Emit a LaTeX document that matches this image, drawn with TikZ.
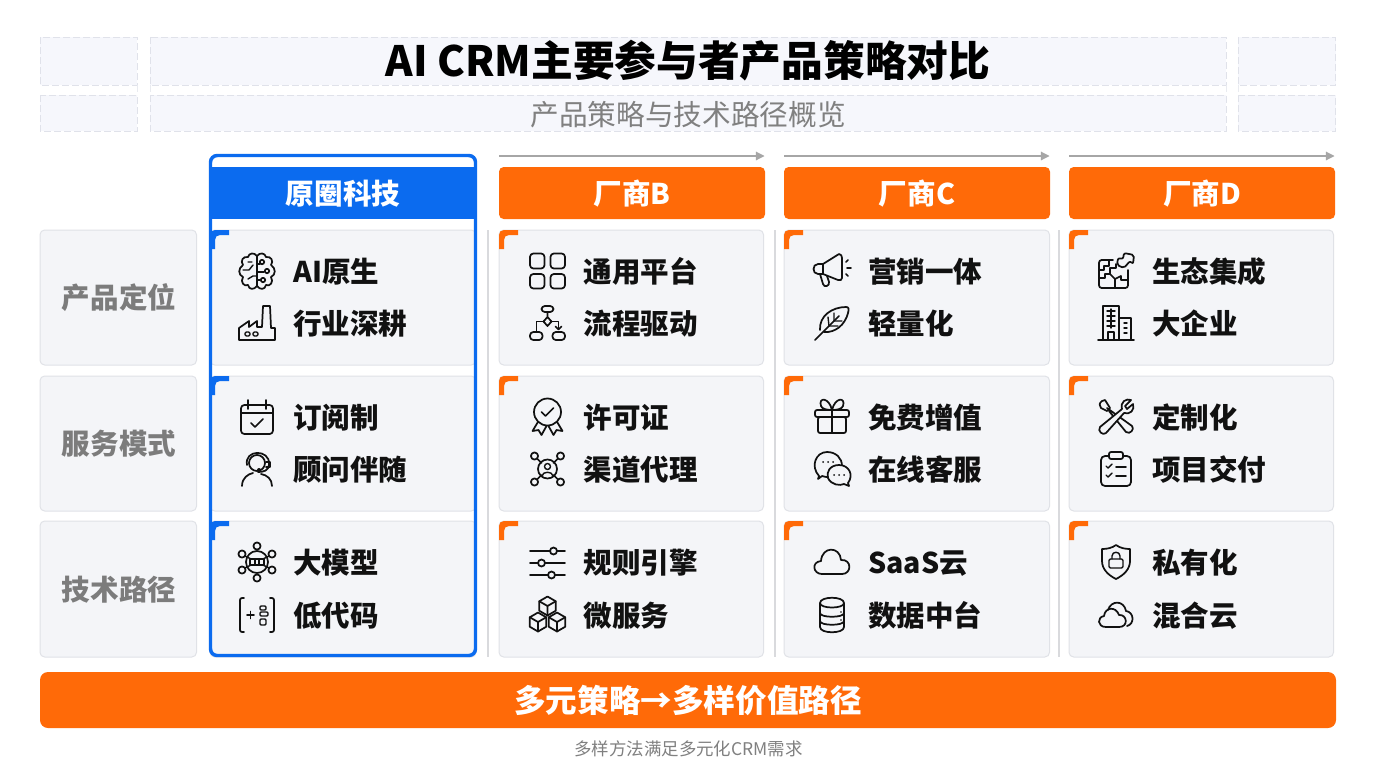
\documentclass[tikz,border=0pt]{standalone}
\usepackage{fontspec}
\setmainfont{Noto Sans CJK SC}
\usetikzlibrary{arrows.meta}
\definecolor{ink}{HTML}{111111}
\definecolor{cellbg}{HTML}{F4F5F8}
\definecolor{cellline}{HTML}{E0E2E7}
\definecolor{brandblue}{HTML}{0B6BEF}
\definecolor{brandorange}{HTML}{FF6A08}
\definecolor{dashbg}{HTML}{F6F7FC}
\definecolor{dashline}{HTML}{E0E2EA}
\definecolor{sepline}{HTML}{D9DADD}
\definecolor{labelgrey}{HTML}{7C7C7C}
\tikzset{
  icon/.style={draw=ink,line width=1.3pt,line cap=round,line join=round},
  iconthin/.style={draw=ink,line width=1.05pt,line cap=round,line join=round},
  cell/.style={fill=cellbg,draw=cellline,line width=0.75pt,rounded corners=3.5pt},
  dashcell/.style={fill=dashbg,draw=dashline,line width=0.7pt,dash pattern=on 5pt off 2.5pt},
  dashlink/.style={draw=dashline!70,line width=0.6pt,dash pattern=on 5pt off 2.5pt},
  headbar/.style={fill=brandorange,rounded corners=3.5pt},
  sep/.style={draw=sepline,line width=0.9pt},
  toparrow/.style={draw=black!35,line width=0.8pt,-{Triangle[length=6.5pt,width=6.5pt,fill=black!35]}},
  itemtext/.style={anchor=base west,inner sep=0pt,font=\fontsize{21.4pt}{24pt}\selectfont\bfseries,text=ink},
  headtext/.style={anchor=base,inner sep=0pt,font=\fontsize{21.4pt}{24pt}\selectfont\bfseries,text=white},
  rowtext/.style={anchor=base,inner sep=0pt,font=\fontsize{21.4pt}{24pt}\selectfont\bfseries,text=labelgrey},
  % ---- icons, local unit = 1px, y pointing down
  icbrain/.pic={
    \foreach \s in {1,-1}{
    \draw[icon,xscale=\s] (0,-15) .. controls (-3,-19) and (-8,-18) .. (-9,-14) .. controls (-14,-15) and (-17,-10) .. (-14,-6) .. controls (-19,-3) and (-19,4) .. (-14,6) .. controls (-17,11) and (-13,16) .. (-9,14) .. controls (-8,19) and (-3,19) .. (0,15);}
    \draw[icon] (0,-15)--(0,15);
    \draw[iconthin] (-14,-1)--(-8,-1)--(-4,-6) (-9,8)--(-4,5)--(0,5) (-9,-9)--(-5,-9);
    \draw[iconthin] (0,-7)--(3,-7) (0,1)--(7,1) (0,9)--(3,9);
    \draw[icon,fill=cellbg] (5,-9) circle[radius=2.2] (10,0) circle[radius=2.2] (6,9) circle[radius=2.2];
  },
  icfactory/.pic={
    \draw[icon] (-18,17)--(-18,5)--(-8,-2)--(-8,4)--(0,-2)--(0,4)--(5,4)--(6,-17)--(13,-17)--(14,5)--(18,5)--(18,17)--cycle;
    \draw[iconthin,rounded corners=1pt] (-12,9) rectangle (-7,13) (-4,9) rectangle (1,13);
  },
  iccalendar/.pic={
    \draw[icon,rounded corners=2.5pt] (-16,-12) rectangle (16,17);
    \draw[icon] (-16,-4)--(16,-4) (-9,-17)--(-9,-8) (9,-17)--(9,-8);
    \draw[icon] (-6,6)--(-2,10)--(6,2);
  },
  icadvisor/.pic={
    \draw[icon] (0,-6) circle[radius=8];
    \draw[icon] (-10,-4) .. controls (-13,-20) and (13,-20) .. (12,-5) .. controls (12,2) and (6,3) .. (1,3);
    \draw[icon] (-15,17) .. controls (-15,9) and (-9,5) .. (-4,4) (4,5) .. controls (10,6) and (15,10) .. (15,17);
    \fill[ink] (2,1) circle[radius=2];
    \draw[icon] (9,-7)--(13,-7)--(13,-2)--(9,-2);
  },
  ichub/.pic={
    \draw[icon] (0,0) circle[radius=11];
    \draw[icon] (0,-16) circle[radius=3.6] (0,16) circle[radius=3.6] (-15,-8) circle[radius=3.6] (15,-8) circle[radius=3.6] (-15,8) circle[radius=3.6] (15,8) circle[radius=3.6];
    \draw[iconthin] (-12,-6)--(12,6) (12,-6)--(-12,6);
    \draw[iconthin,fill=cellbg] (-7,-3) rectangle (-2.5,3) (-2,-3) rectangle (2,3) (2.5,-3) rectangle (7,3);
  },
  iclowcode/.pic={
    \draw[icon,rounded corners=1.5pt] (-13,-17)--(-17,-17)--(-17,17)--(-13,17) (13,-17)--(17,-17)--(17,17)--(13,17);
    \draw[icon] (-10,0)--(-3,0) (-6.5,-3.5)--(-6.5,3.5);
    \draw[iconthin,rounded corners=0.8pt] (3,-9) rectangle (9,-5) (3,-3) rectangle (11,1) (3,4) rectangle (9,10);
  },
  icgrid/.pic={
    \draw[icon,rounded corners=2.5pt] (-17.5,-17.5) rectangle (-3,-2.5) (3,-17.5) rectangle (17.5,-2.5) (-17.5,3) rectangle (-3,17.5) (3,3) rectangle (17.5,17.5);
  },
  icflow/.pic={
    \draw[icon,rounded corners=2.5pt] (-6,-17) rectangle (6,-11);
    \draw[icon] (0,-11)--(0,-6) (0,-6)--(4,-1.5)--(0,3)--(-4,-1.5)--cycle;
    \draw[icon] (-4,-1.5)--(-11,-1.5)--(-11,9) (4,-1.5)--(11,-1.5)--(11,6);
    \draw[icon] (8,3.5)--(11,6.5)--(14,3.5);
    \draw[icon,rounded corners=2.5pt] (-17.5,9) rectangle (-5,17) (5,9) rectangle (17.5,17);
  },
  icbadge/.pic={
    \draw[icon] (-9,4)--(-15,14)--(-9,13)--(-6,18)--(-1,9);
    \draw[icon] (9,4)--(15,14)--(9,13)--(6,18)--(1,9);
    \draw[icon,fill=cellbg] (0,-5) circle[radius=13.5];
    \draw[icon] (-6,-5)--(-2,-1)--(6,-9);
  },
  icnetwork/.pic={
    \draw[icon] (-10.5,-10.5)--(-6,-6) (10.5,-10.5)--(6,-6) (-10.5,10.5)--(-6,6) (10.5,10.5)--(6,6);
    \draw[icon] (0,0) circle[radius=9.5];
    \draw[icon] (-13,-13) circle[radius=3.6] (13,-13) circle[radius=3.6] (-13,13) circle[radius=3.6] (13,13) circle[radius=3.6];
    \draw[iconthin] (0,-2.5) circle[radius=3];
    \draw[iconthin] (-5.5,7) .. controls (-5,2) and (5,2) .. (5.5,7);
  },
  icsliders/.pic={
    \draw[icon] (-17.5,-11)--(17.5,-11) (-17.5,1)--(17.5,1) (-17.5,13)--(17.5,13);
    \draw[icon,fill=cellbg] (6,-11) circle[radius=3.5] (-6,1) circle[radius=3.5] (4,13) circle[radius=3.5];
  },
  iccubes/.pic={
    \foreach \cx/\cy in {0/-9,-9.5/7,9.5/7}{
      \begin{scope}[shift={(\cx,\cy)}]
        \draw[icon,fill=cellbg] (0,-9.5)--(8.2,-4.75)--(8.2,4.75)--(0,9.5)--(-8.2,4.75)--(-8.2,-4.75)--cycle;
        \draw[icon] (-8.2,-4.75)--(0,0)--(8.2,-4.75) (0,0)--(0,9.5);
      \end{scope}}
  },
  icmegaphone/.pic={
    \draw[icon] (-9,-7)--(7,-17) .. controls (9,-17) and (10,-15) .. (10,-13)--(10,7) .. controls (10,9) and (8,10) .. (6,9)--(-9,3);
    \draw[icon] (-9,-7)--(-14,-7) .. controls (-20,-7) and (-20,3) .. (-14,3)--(-9,3)--cycle;
    \draw[icon] (-12,3)--(-9,13) .. controls (-8,17) and (-2,15) .. (-3,11)--(-5,5);
    \draw[icon] (14,-9)--(16,-11) (15,-3)--(19,-3) (14,3)--(16,5);
  },
  icfeather/.pic={
    \draw[icon] (-12,7) .. controls (-13,-7) and (0,-16) .. (14,-16) .. controls (17,-16) and (17,-14) .. (16,-10) .. controls (13,2) and (3,10) .. (-8,9);
    \draw[icon] (-17,17)--(7,-7);
    \draw[iconthin] (-3,3)--(-4,-6) (-3,3)--(6,3) (2,-2)--(2,-10) (2,-2)--(10,-2);
  },
  icgift/.pic={
    \draw[icon,rounded corners=1.5pt] (-17,-7) rectangle (17,0);
    \draw[icon,rounded corners=1.5pt] (-14,0) rectangle (14,16);
    \draw[icon] (0,-7)--(0,16);
    \draw[icon] (0,-7) .. controls (-3,-20) and (-14,-20) .. (-11,-11) .. controls (-10,-8) and (-5,-7) .. (0,-7);
    \draw[icon] (0,-7) .. controls (3,-20) and (14,-20) .. (11,-11) .. controls (10,-8) and (5,-7) .. (0,-7);
  },
  icchat/.pic={
    \draw[icon] (-13,7) .. controls (-22,-3) and (-16,-17) .. (-5,-17) .. controls (4,-17) and (10,-11) .. (10,-3) -- (-2,8) .. controls (-5,8) and (-8,8) .. (-10,7) -- (-14,10) -- cycle;
    \draw[icon,fill=cellbg] (16,14) .. controls (22,6) and (17,-4) .. (7,-4) .. controls (-2,-4) and (-6,3) .. (-4,9) .. controls (-1,16) and (8,17) .. (12,15) -- (17,17) -- cycle;
    \fill[ink] (-9,-7) circle[radius=1] (-4,-7) circle[radius=1] (1,-7) circle[radius=1] (2,6) circle[radius=1] (7,6) circle[radius=1] (12,6) circle[radius=1];
  },
  icpuzzle/.pic={
    \draw[icon,rounded corners=2pt] (-3,-11)--(-17,-11)--(-17,17)--(12,17)--(12,-1);
    \draw[icon] (-17,-1)--(-12,-1)--(-12,-5)--(-7,-5)--(-7,-11) (-17,7)--(-11,7)--(-11,3)--(-6,3)--(-6,-3)--(0,-3)--(0,-7);
    \draw[icon] (-6,3)--(-1,8)--(-1,17) (-1,8)--(5,5)--(5,9)--(12,9);
    \draw[icon,rounded corners=1.5pt] (1,-6)--(2,-13)--(7,-12)--(8,-18)--(18,-16)--(17,-7)--(14,-10)--(8,-3)--cycle;
  },
  icbuilding/.pic={
    \draw[icon] (-18,17)--(18,17);
    \draw[icon] (-13,17)--(-13,-17)--(3,-17)--(3,17) (3,-5)--(15,-5)--(15,17);
    \draw[iconthin] (-9,-12)--(-1,-12) (-9,-7)--(-1,-7) (-9,-2)--(-1,-2) (-9,3)--(-1,3) (-5,-14)--(-5,5) (8,0)--(11,0) (8,5)--(11,5) (8,10)--(11,10);
    \draw[iconthin] (-8,17)--(-8,9)--(-2,9)--(-2,17);
  },
  ictools/.pic={
    \draw[icon] (-9,-9)--(16,9) .. controls (19,12) and (14,18) .. (10,15) -- (-7,-6);
    \draw[icon] (-14,-16) .. controls (-17,-14) and (-17,-11) .. (-15,-9) -- (-9,-6)--(-6,-9)--(-11,-17) -- cycle;
    \draw[icon,fill=cellbg] (-16,10)--(6,-8) .. controls (4,-15) and (10,-19) .. (15,-17)--(9,-11)--(11,-8)--(17,-13) .. controls (19,-7) and (14,-2) .. (8,-4)--(-10,16) .. controls (-13,19) and (-19,14) .. (-16,10) -- cycle;
  },
  icclipboard/.pic={
    \draw[icon,rounded corners=3pt] (-15,-13) rectangle (15,17);
    \draw[icon,fill=cellbg,rounded corners=1.5pt] (-7,-17) rectangle (7,-10);
    \draw[iconthin] (-10,-3)--(-8,-1)--(-4,-5) (-10,6)--(-8,8)--(-4,4);
    \draw[icon] (0,-2)--(10,-2) (0,7)--(10,7);
  },
  iccloud/.pic={
    \draw[icon] (-10,12) .. controls (-19,12) and (-21,0) .. (-11,-1) .. controls (-10,-16) and (8,-16) .. (9,-2) .. controls (20,-3) and (20,12) .. (10,12) -- cycle;
  },
  icdatabase/.pic={
    \draw[icon] (-12,-12) .. controls (-12,-19) and (12,-19) .. (12,-12) .. controls (12,-6) and (-12,-6) .. (-12,-12) -- (-12,12) .. controls (-12,19) and (12,19) .. (12,12) -- (12,-12);
    \draw[icon] (-12,-2) .. controls (-12,3) and (12,3) .. (12,-2) (-12,6) .. controls (-12,11) and (12,11) .. (12,6);
    \fill[ink] (9,-3) circle[radius=0.9] (9,5) circle[radius=0.9];
  },
  icshield/.pic={
    \draw[icon] (0,-17) .. controls (4,-14) and (9,-13) .. (14,-13) -- (14,-1) .. controls (14,7) and (8,13) .. (0,17) .. controls (-8,13) and (-14,7) .. (-14,-1) -- (-14,-13) .. controls (-9,-13) and (-4,-14) .. (0,-17) -- cycle;
    \draw[iconthin,rounded corners=1pt] (-7,-3) rectangle (7,6);
    \draw[iconthin] (-4,-3)--(-4,-6) .. controls (-4,-11) and (4,-11) .. (4,-6)--(4,-3);
  },
  ichybrid/.pic={
    \draw[icon] (-10,12) .. controls (-19,12) and (-19,2) .. (-12,1) .. controls (-11,-8) and (0,-9) .. (3,0) .. controls (11,-1) and (13,12) .. (3,12) -- cycle;
    \draw[icon] (-8,-5) .. controls (-5,-15) and (8,-15) .. (10,-4) .. controls (18,-3) and (19,9) .. (11,11);
  },
}
\newcommand{\cornermark}[3]{\fill[#3,shift={(#1,#2)}] (0,19)--(0,5) .. controls (0,2) and (2,0) .. (5,0)--(19,0)--(19,5)--(10,5) .. controls (7,5) and (5,7) .. (5,10)--(5,19)--cycle;}
\newcommand{\cellitem}[5]{\pic at (#2,#3) {#4};\node[itemtext] (#1) at (#2+36,#3+11.2) {#5};}
\begin{document}
\begin{tikzpicture}[x=0.75pt,y=-0.75pt]
\useasboundingbox[fill=white] (0,0) rectangle (1376,768);
% dashed title bands
\foreach \ya/\yb in {37/85,95/131}{
  \draw[dashcell] (40,\ya) rectangle (137,\yb);
  \draw[dashcell] (150,\ya) rectangle (1226,\yb);
  \draw[dashcell] (1238,\ya) rectangle (1335.5,\yb);}
\foreach \xa in {137,150,1226,1238}{\draw[dashlink] (\xa,85)--(\xa,95);}
\node[anchor=base,inner sep=0pt,font=\fontsize{31.3pt}{34pt}\selectfont\bfseries,text=black] (title) at (688,76) {AI CRM主要参与者产品策略对比};
\node[anchor=base,inner sep=0pt,font=\fontsize{21.5pt}{24pt}\selectfont,text=black!50] (subtitle) at (688,125) {产品策略与技术路径概览};
% separators
\coordinate (s1a) at (488,230);\coordinate (s1b) at (488,657);
\coordinate (s2a) at (775,230);\coordinate (s2b) at (775,657);
\coordinate (s3a) at (1059,230);\coordinate (s3b) at (1059,657);
\draw[sep] (s1a)--(s1b);\draw[sep] (s2a)--(s2b);\draw[sep] (s3a)--(s3b);
% top arrows
\coordinate (a1a) at (499,156);\coordinate (a1b) at (764.5,156);
\coordinate (a2a) at (784,156);\coordinate (a2b) at (1049.5,156);
\coordinate (a3a) at (1069,156);\coordinate (a3b) at (1334.5,156);
\draw[toparrow] (a1a)--(a1b);\draw[toparrow] (a2a)--(a2b);\draw[toparrow] (a3a)--(a3b);
% cells
\foreach \ya/\yb in {230/365,376/511,521/657}{
  \draw[cell] (40,\ya) rectangle (196.5,\yb);
  \draw[cell] (210,\ya) rectangle (476,\yb);
  \draw[cell] (499,\ya) rectangle (763.5,\yb);
  \draw[cell] (784,\ya) rectangle (1049.5,\yb);
  \draw[cell] (1069,\ya) rectangle (1333.5,\yb);
  \cornermark{499}{\ya}{brandorange}
  \cornermark{784}{\ya}{brandorange}
  \cornermark{1069}{\ya}{brandorange}
  \cornermark{210}{\ya}{brandblue}}
% headers
\fill[brandblue] (210,167) rectangle (476,219);
\fill[headbar] (499,167) rectangle (765,219);
\fill[headbar] (784,167) rectangle (1050,219);
\fill[headbar] (1069,167) rectangle (1335,219);
\draw[brandblue,line width=2.6pt,rounded corners=5pt] (210.5,155.5) rectangle (475.5,655.5);
\node[headtext] (h0) at (343,204) {原圈科技};
\node[headtext] (h1) at (632,204) {厂商B};
\node[headtext] (h2) at (917,204) {厂商C};
\node[headtext] (h3) at (1202,204) {厂商D};
% row labels
\node[rowtext] (r0) at (119,308) {产品定位};
\node[rowtext] (r1) at (119,454) {服务模式};
\node[rowtext] (r2) at (119,600) {技术路径};
% column 0
\cellitem{c00a}{257}{271}{icbrain}{AI原生}
\cellitem{c00b}{257}{323}{icfactory}{行业深耕}
\cellitem{c01a}{257}{417}{iccalendar}{订阅制}
\cellitem{c01b}{257}{469}{icadvisor}{顾问伴随}
\cellitem{c02a}{257}{562}{ichub}{大模型}
\cellitem{c02b}{257}{615}{iclowcode}{低代码}
% column 1
\cellitem{c10a}{547.5}{271}{icgrid}{通用平台}
\cellitem{c10b}{547.5}{323}{icflow}{流程驱动}
\cellitem{c11a}{547.5}{417}{icbadge}{许可证}
\cellitem{c11b}{547.5}{469}{icnetwork}{渠道代理}
\cellitem{c12a}{547.5}{562}{icsliders}{规则引擎}
\cellitem{c12b}{547.5}{615}{iccubes}{微服务}
% column 2
\cellitem{c20a}{832}{271}{icmegaphone}{营销一体}
\cellitem{c20b}{832}{323}{icfeather}{轻量化}
\cellitem{c21a}{832}{417}{icgift}{免费增值}
\cellitem{c21b}{832}{469}{icchat}{在线客服}
\cellitem{c22a}{832}{562}{iccloud}{SaaS云}
\cellitem{c22b}{832}{615}{icdatabase}{数据中台}
% column 3
\cellitem{c30a}{1116}{271}{icpuzzle}{生态集成}
\cellitem{c30b}{1116}{323}{icbuilding}{大企业}
\cellitem{c31a}{1116}{417}{ictools}{定制化}
\cellitem{c31b}{1116}{469}{icclipboard}{项目交付}
\cellitem{c32a}{1116}{562}{icshield}{私有化}
\cellitem{c32b}{1116}{615}{ichybrid}{混合云}
% banner
\fill[brandorange,rounded corners=6pt] (40,672) rectangle (1336,728);
\node[anchor=base,inner sep=0pt,font=\fontsize{23.7pt}{26pt}\selectfont\bfseries,text=white] (banner) at (688,712) {多元策略→多样价值路径};
\node[anchor=base,inner sep=0pt,font=\fontsize{13.1pt}{15pt}\selectfont,text=black!50] (footer) at (688.5,755) {多样方法满足多元化CRM需求};
\end{tikzpicture}
\end{document}
